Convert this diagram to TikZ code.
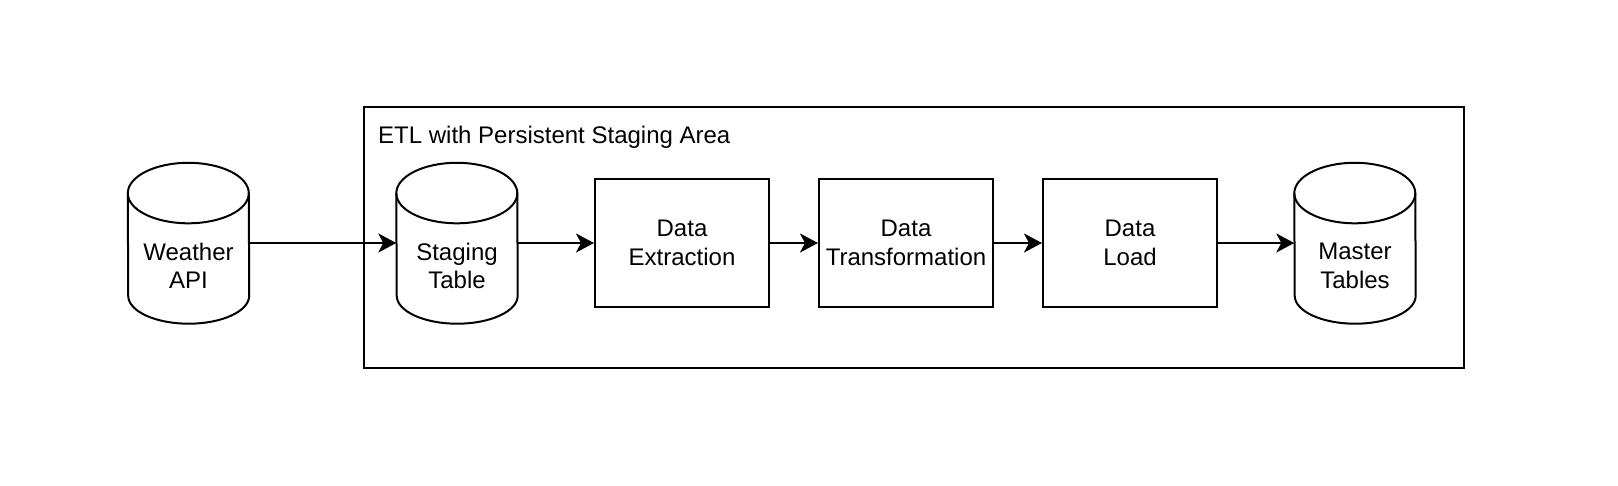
\documentclass[tikz,border=0pt]{standalone}
\usepackage{fontspec}
\setmainfont{Liberation Sans}
\usetikzlibrary{arrows.meta}
\newcommand\drawcyl[1]{%
  \draw[line] ([yshift=-31pt]#1.north west) arc[start angle=180, end angle=0, x radius=60.5pt, y radius=30.5pt]
    -- ([yshift=28pt]#1.south east) arc[start angle=0, end angle=-180, x radius=60.5pt, y radius=28pt] -- cycle;
  \draw[line] ([yshift=-31pt]#1.north west) arc[start angle=180, end angle=360, x radius=60.5pt, y radius=30pt];
}
\begin{document}
\begin{tikzpicture}[x=1pt,y=-1pt,
  line/.style={line width=2pt, draw=black},
  lbl/.style={font=\fontsize{24}{28.5}\selectfont, align=center, inner sep=0pt},
  procbox/.style={line, minimum width=174pt, minimum height=128pt, inner sep=0pt, align=center, font=\fontsize{24}{29}\selectfont},
  cylbox/.style={minimum width=121pt, minimum height=161pt, inner sep=0pt},
  arr/.style={line, -{Stealth[length=18pt,width=19pt,inset=5pt]}}]
\fill[white] (0,0) rectangle (1618,486);
\useasboundingbox (0,0) rectangle (1618,486);
% container
\node[line, minimum width=1100pt, minimum height=261pt, anchor=north west] (etl) at (363,106) {};
\node[lbl, anchor=base west] (etllbl) at (378,144) {ETL with Persistent Staging Area};
% cylinders
\node[cylbox] (w) at (188.5,243) {};
\node[cylbox] (s) at (457,243) {};
\node[cylbox] (m) at (1355,243) {};
\drawcyl{w}
\drawcyl{s}
\drawcyl{m}
\node[lbl] (wt) at (188.5,266) {Weather\\API};
\node[lbl] (st) at (457,266) {Staging\\Table};
\node[lbl] (mt) at (1355,266) {Master\\Tables};
% process boxes
\node[procbox] (ext) at (682,243) {Data\\Extraction};
\node[procbox] (tr) at (906,243) {Data\\Transformation};
\node[procbox] (ld) at (1130,243) {Data\\Load};
% arrows
\draw[arr] (w.east) -- (s.west);
\draw[arr] (s.east) -- (ext.west);
\draw[arr] (ext.east) -- (tr.west);
\draw[arr] (tr.east) -- (ld.west);
\draw[arr] (ld.east) -- (m.west);
\end{tikzpicture}
\end{document}
